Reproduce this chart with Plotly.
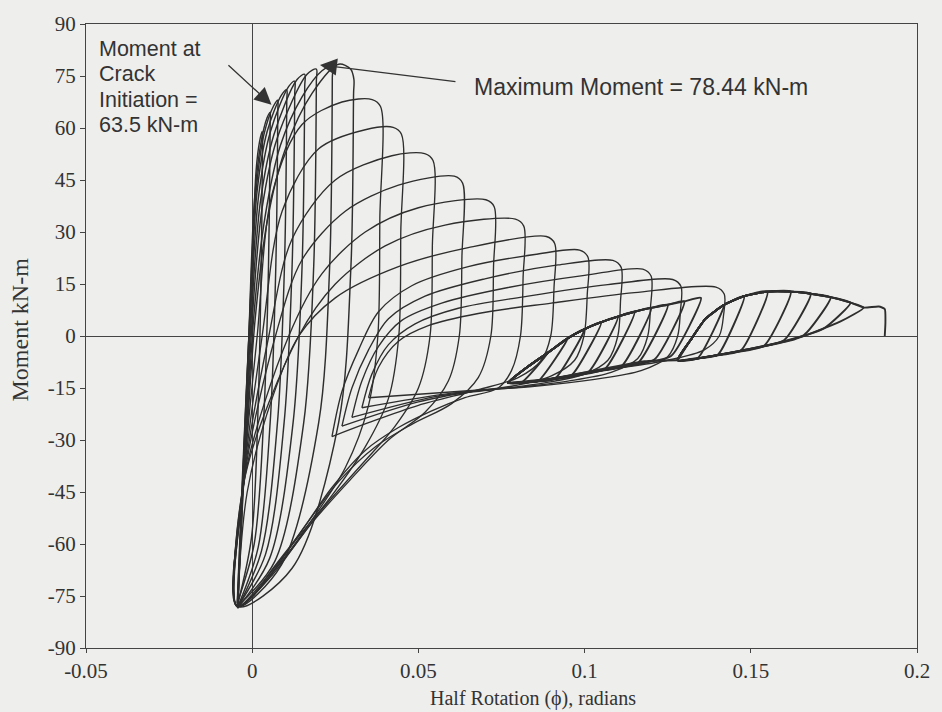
import plotly.graph_objects as go

# ---------------- axis ticks ----------------
x_ticks = [-0.05, 0, 0.05, 0.1, 0.15, 0.2]
x_tick_text = ["-0.05", "0", "0.05", "0.1", "0.15", "0.2"]
y_ticks = [90, 75, 60, 45, 30, 15, 0, -15, -30, -45, -60, -75, -90]
y_tick_text = ["90", "75", "60", "45", "30", "15", "0", "-15", "-30", "-45", "-60", "-75", "-90"]

# ---------------- hysteresis loops (half rotation, moment kN-m) ----------------
# early cycles: peaks on the rising backbone, negative side back to the corner
early_rot = [
    [0.0, 0.0004, 0.0012, 0.0022, 0.003, 0.0031, 0.0027, 0.0018, -0.0002, -0.0045],
    [-0.0045, -0.003, -0.0012, 0.0006, 0.0025, 0.0045, 0.0054, 0.0054, 0.0049, 0.0034, 0.0006, -0.0045],
    [-0.0045, -0.003, -0.001, 0.001, 0.0035, 0.0065, 0.0077, 0.0077, 0.0071, 0.0054, 0.0018, -0.0043],
    [-0.0043, -0.0028, -0.0006, 0.0015, 0.0045, 0.0088, 0.0104, 0.0104, 0.0097, 0.0076, 0.0028, -0.0044],
    [-0.0044, -0.0027, -0.0003, 0.002, 0.0055, 0.011, 0.0128, 0.0128, 0.012, 0.0096, 0.004, -0.0043],
    [-0.0043, -0.0026, 0.0, 0.0025, 0.0065, 0.0135, 0.0158, 0.0158, 0.015, 0.0123, 0.0053, -0.0044],
    [-0.0044, -0.0025, 0.0003, 0.003, 0.0075, 0.0165, 0.0193, 0.0193, 0.0185, 0.0155, 0.0068, -0.0045],
    [-0.0045, -0.0024, 0.0006, 0.0038, 0.0085, 0.015, 0.021, 0.0241, 0.0241, 0.0233, 0.02, 0.0088, -0.0045],
    [-0.0045, -0.0023, 0.0009, 0.0045, 0.01, 0.018, 0.026, 0.0296, 0.0306, 0.0305, 0.0297, 0.026, 0.012, -0.0045],
]
early_mom = [
    [0, 30, 48, 56, 59, 56, 20, -20, -58, -78],
    [-78, -45, -5, 38, 55, 63, 64.5, 61, 20, -25, -60, -77],
    [-77, -42, 0, 40, 58, 66.5, 68, 65, 20, -25, -61, -78],
    [-78, -40, 8, 42, 59, 69.5, 71, 68, 20, -25, -62, -78.5],
    [-78.5, -40, 10, 41, 59, 72, 73.5, 70, 20, -25, -63, -78],
    [-78, -40, 10, 39, 58, 74, 75.5, 72, 20, -25, -64, -78.5],
    [-78.5, -40, 9, 37, 57, 75.5, 77, 73.5, 20, -25, -65, -78],
    [-78, -40, 7, 34, 55, 69, 76.5, 78, 74.5, 20, -25, -66, -78],
    [-78, -40, 5, 33, 54, 70, 78.4, 77, 74, 70, 20, -25, -67, -78],
]

# middle cycles: degrading peaks, unloading sweeps back to the corner
mid_rot = [
    [-0.0045, -0.0025, 0.0015, 0.006, 0.015, 0.027, 0.0361, 0.0386, 0.0384, 0.0378, 0.035, 0.028, 0.018, 0.008, -0.0045],
    [-0.0045, -0.0024, 0.003, 0.009, 0.02, 0.034, 0.0424, 0.0449, 0.0447, 0.0441, 0.041, 0.034, 0.024, 0.013, 0.004, -0.0045],
    [-0.0045, -0.0023, 0.005, 0.012, 0.025, 0.042, 0.0519, 0.0544, 0.0542, 0.0535, 0.05, 0.043, 0.033, 0.021, 0.009, -0.0045],
    [-0.0045, -0.0022, 0.007, 0.015, 0.028, 0.044, 0.0608, 0.0633, 0.0631, 0.0623, 0.059, 0.052, 0.041, 0.029, 0.017, 0.006, -0.0045],
    [-0.0045, -0.0021, 0.011, 0.021, 0.034, 0.05, 0.0703, 0.0728, 0.0726, 0.0718, 0.068, 0.06, 0.048, 0.037, 0.026, 0.015, 0.003, -0.0045],
    [-0.0045, -0.002, 0.014, 0.025, 0.04, 0.058, 0.0792, 0.0817, 0.0815, 0.0807, 0.078, 0.074, 0.064, 0.054, 0.044, 0.034, 0.024, 0.0143, 0.0055, 0.0003, -0.0045],
]
mid_mom = [
    [-78, -40, 0, 41, 61, 67.5, 68.2, 66.2, 34, 0, -20, -38, -53, -66, -78],
    [-78, -40, 0, 36, 54, 59.5, 60.2, 58.2, 30, 0, -18, -32, -46, -59, -70, -78],
    [-78, -40, 0, 28, 45, 52, 52.6, 50.6, 26, 0, -15, -26, -37, -50, -65, -78],
    [-78, -40, 0, 22, 36, 43.5, 46.1, 44.1, 23, 0, -13, -22, -30, -42, -55, -69, -78],
    [-78, -40, 0, 18, 30, 37, 39.3, 37.3, 20, 0, -12, -19.5, -25.5, -32, -42, -56, -72, -78],
    [-78, -40, 0, 15, 26, 32, 33.7, 31.7, 17, 0, -10, -15, -17.8, -21.6, -26.4, -33, -43.7, -57, -68, -75, -78],
]

# late cycles: small peaks, negative side turning at the inner tips
late_rot = [
    [-0.0045, -0.0015, 0.006, 0.014, 0.025, 0.044, 0.065, 0.0885, 0.091, 0.0908, 0.0898, 0.087, 0.08, 0.068, 0.05, 0.035, 0.024],
    [0.024, 0.027, 0.032, 0.038, 0.048, 0.065, 0.085, 0.0985, 0.101, 0.1008, 0.0998, 0.097, 0.09, 0.078, 0.066, 0.05, 0.027],
    [0.027, 0.030, 0.035, 0.041, 0.052, 0.07, 0.092, 0.1085, 0.111, 0.1108, 0.11, 0.107, 0.1, 0.088, 0.072, 0.055, 0.030],
    [0.030, 0.033, 0.038, 0.045, 0.057, 0.077, 0.1, 0.1175, 0.12, 0.1198, 0.119, 0.116, 0.108, 0.095, 0.078, 0.06, 0.033],
    [0.033, 0.036, 0.041, 0.049, 0.062, 0.083, 0.107, 0.1265, 0.129, 0.1288, 0.128, 0.125, 0.117, 0.103, 0.085, 0.065, 0.035],
    [0.035, 0.038, 0.044, 0.053, 0.068, 0.09, 0.115, 0.1395, 0.142, 0.1418, 0.1405, 0.136, 0.125, 0.105, 0.09, 0.077],
]
late_mom = [
    [-78, -45, -18, 0, 11, 20, 25.5, 28.7, 26.7, 14, 0, -7, -12, -15.5, -20, -25, -29],
    [-29, -16, -4, 7, 14.5, 20, 23.5, 24.8, 22.8, 12, 0, -7, -11.5, -14.5, -16, -19, -26],
    [-26, -15, -4, 5, 11.5, 16.5, 20.5, 21.8, 19.8, 10, 0, -7, -11, -13.5, -15.5, -17.5, -23.5],
    [-23.5, -13, -3, 4.5, 9.5, 14, 17.5, 19.3, 17.3, 8, 0, -6.5, -10.5, -13, -15, -16.5, -20.7],
    [-20.7, -11, -2.5, 3.5, 8, 11.5, 14.8, 16.3, 14.3, 7, 0, -6, -10, -12.5, -14.5, -15.8, -17.8],
    [-17.8, -9, -1.5, 3, 6.5, 9.5, 12.5, 14.1, 12.1, 6, 0, -4, -7, -10, -12.5, -13.5],
]

# final cycles: tight cluster, first group (left)
cluster_left_rot = [
    [0.077, 0.083, 0.089, 0.081, 0.077],
    [0.077, 0.083, 0.089, 0.095, 0.086, 0.08, 0.077],
    [0.077, 0.083, 0.089, 0.095, 0.1, 0.091, 0.083, 0.077],
    [0.077, 0.083, 0.089, 0.095, 0.1, 0.105, 0.096, 0.087, 0.077],
    [0.077, 0.083, 0.089, 0.095, 0.1, 0.105, 0.11, 0.101, 0.09, 0.077],
    [0.077, 0.083, 0.089, 0.095, 0.1, 0.105, 0.11, 0.115, 0.106, 0.095, 0.084, 0.077],
    [0.077, 0.083, 0.089, 0.095, 0.1, 0.105, 0.11, 0.115, 0.12, 0.111, 0.1, 0.087, 0.077],
    [0.077, 0.083, 0.089, 0.095, 0.1, 0.105, 0.11, 0.115, 0.12, 0.125, 0.116, 0.104, 0.09, 0.077],
    [0.077, 0.083, 0.089, 0.095, 0.1, 0.105, 0.11, 0.115, 0.12, 0.125, 0.13, 0.121, 0.108, 0.092, 0.077],
    [0.077, 0.083, 0.089, 0.095, 0.1, 0.105, 0.11, 0.115, 0.12, 0.125, 0.13, 0.135, 0.126, 0.112, 0.095, 0.077],
    [0.077, 0.09, 0.105, 0.118, 0.128],
]
cluster_left_mom = [
    [-13.5, -8.8, -4.8, -13.4, -13.5],
    [-13.5, -8.8, -4.8, -0.6, -13, -13.4, -13.5],
    [-13.5, -8.8, -4.8, -0.6, 2, -12.4, -13.3, -13.5],
    [-13.5, -8.8, -4.8, -0.6, 2, 4, -11.4, -12.9, -13.5],
    [-13.5, -8.8, -4.8, -0.6, 2, 4, 5.6, -10.5, -12.5, -13.5],
    [-13.5, -8.8, -4.8, -0.6, 2, 4, 5.6, 7, -9.6, -11.6, -13.1, -13.5],
    [-13.5, -8.8, -4.8, -0.6, 2, 4, 5.6, 7, 8.1, -8.8, -10.6, -12.9, -13.5],
    [-13.5, -8.8, -4.8, -0.6, 2, 4, 5.6, 7, 8.1, 9, -7.8, -10, -12.5, -13.5],
    [-13.5, -8.8, -4.8, -0.6, 2, 4, 5.6, 7, 8.1, 9, 10, -6.8, -9.4, -12.2, -13.5],
    [-13.5, -8.8, -4.8, -0.6, 2, 4, 5.6, 7, 8.1, 9, 10, 11, -5.8, -8.6, -11.6, -13.5],
    [-13.5, -12.3, -9.6, -7.3, -7],
]

# final cycles: second group (right) and last excursion
cluster_right_rot = [
    [0.128, 0.132, 0.1364, 0.142, 0.134, 0.128],
    [0.128, 0.132, 0.1364, 0.142, 0.148, 0.14, 0.133, 0.128],
    [0.128, 0.132, 0.1364, 0.142, 0.148, 0.155, 0.147, 0.138, 0.128],
    [0.128, 0.132, 0.1364, 0.142, 0.148, 0.155, 0.162, 0.154, 0.143, 0.128],
    [0.128, 0.132, 0.1364, 0.142, 0.148, 0.155, 0.162, 0.168, 0.16, 0.148, 0.135, 0.128],
    [0.128, 0.132, 0.1364, 0.142, 0.148, 0.155, 0.162, 0.168, 0.174, 0.166, 0.153, 0.138, 0.128],
    [0.128, 0.132, 0.1364, 0.142, 0.148, 0.155, 0.162, 0.168, 0.174, 0.18, 0.172, 0.158, 0.142, 0.128],
    [0.128, 0.132, 0.1364, 0.142, 0.148, 0.155, 0.162, 0.168, 0.174, 0.18, 0.184, 0.177, 0.163, 0.145, 0.128],
    [0.128, 0.132, 0.1364, 0.142, 0.148, 0.155, 0.162, 0.168, 0.174, 0.18, 0.184, 0.1885, 0.1903, 0.1905, 0.1903],
]
cluster_right_mom = [
    [-7, -1, 5, 9, -6.4, -7],
    [-7, -1, 5, 9, 11.5, -5.5, -6.5, -7],
    [-7, -1, 5, 9, 11.5, 12.8, -4.2, -5.8, -7],
    [-7, -1, 5, 9, 11.5, 12.8, 12.8, -2.8, -5, -7],
    [-7, -1, 5, 9, 11.5, 12.8, 12.8, 12.2, -1.2, -4, -6.3, -7],
    [-7, -1, 5, 9, 11.5, 12.8, 12.8, 12.2, 11.2, 0.3, -3.2, -5.8, -7],
    [-7, -1, 5, 9, 11.5, 12.8, 12.8, 12.2, 11.2, 9.6, 2.2, -2, -5.1, -7],
    [-7, -1, 5, 9, 11.5, 12.8, 12.8, 12.2, 11.2, 9.6, 8.2, 4.2, -1, -4.6, -7],
    [-7, -1, 5, 9, 11.5, 12.8, 12.8, 12.2, 11.2, 9.6, 8.2, 8.5, 7.8, 4, 0],
]

# ---------------- annotation values ----------------
crack_label = ["Moment at", "Crack", "Initiation =", "63.5 kN-m"]
crack_label_y = [82.8, 75.5, 68.1, 60.8]
crack_point = (0.0058, 66.7)
crack_tail = (-0.0076, 78.5)
max_label = "Maximum Moment = 78.44 kN-m"
max_point = (0.0204, 78.2)
max_tail = (0.0616, 73.3)

BG = "#eeeeec"
INK = "#333333"
LINE = "#2e2e2e"
SERIF = "Liberation Serif"
SANS = "Liberation Sans"

fig = go.Figure()


def add_family(rots, moms, smoothing, width=1.35):
    for r, m in zip(rots, moms):
        fig.add_trace(go.Scatter(
            x=r, y=m, mode="lines",
            line=dict(color=LINE, width=width, shape="spline", smoothing=smoothing),
            hoverinfo="skip", showlegend=False,
        ))


add_family(early_rot, early_mom, 0.9, 1.45)
add_family(mid_rot, mid_mom, 0.9)
add_family(late_rot, late_mom, 0.9)
add_family(cluster_left_rot, cluster_left_mom, 0.5, 1.9)
add_family(cluster_right_rot, cluster_right_mom, 0.5, 1.9)

annotations = []
for txt, yy in zip(crack_label, crack_label_y):
    annotations.append(dict(x=-0.0467, y=yy, xref="x", yref="y", text=txt,
                            showarrow=False, xanchor="left", yanchor="middle",
                            font=dict(family=SANS, size=21.5, color=INK)))
annotations.append(dict(x=0.066, y=71.9, xref="x", yref="y", text=max_label,
                        showarrow=False, xanchor="left", yanchor="middle",
                        font=dict(family=SANS, size=23, color=INK)))
for tip, tail in [(crack_point, crack_tail), (max_point, max_tail)]:
    annotations.append(dict(x=tip[0], y=tip[1], xref="x", yref="y",
                            ax=tail[0], ay=tail[1], axref="x", ayref="y",
                            text="", showarrow=True, arrowhead=2, arrowsize=2.6,
                            arrowwidth=1.3, arrowcolor=INK))
# axis titles
annotations.append(dict(x=0.538, y=-0.081, xref="paper", yref="paper",
                        text="Half Rotation (ϕ), radians", showarrow=False,
                        xanchor="center", yanchor="middle",
                        font=dict(family=SERIF, size=20, color=INK)))
annotations.append(dict(x=-0.079, y=0.511, xref="paper", yref="paper",
                        text="Moment kN-m", showarrow=False, textangle=-90,
                        xanchor="center", yanchor="middle",
                        font=dict(family=SERIF, size=24, color=INK)))

fig.update_layout(
    width=942, height=712,
    margin=dict(l=86, r=18, t=22, b=64),
    paper_bgcolor=BG, plot_bgcolor=BG,
    showlegend=False,
    annotations=annotations,
    font=dict(family=SERIF, color=INK),
)
fig.update_xaxes(
    range=[-0.05, 0.2], tickvals=x_ticks, ticktext=x_tick_text,
    ticks="outside", ticklen=4, tickcolor="#444", tickwidth=1,
    showline=True, linecolor="#444", linewidth=1.3, mirror=True,
    showgrid=False, zeroline=True, zerolinecolor="#444", zerolinewidth=1.2,
    tickfont=dict(family=SERIF, size=21, color=INK),
)
fig.update_yaxes(
    range=[-90, 90], tickvals=y_ticks, ticktext=y_tick_text,
    ticks="outside", ticklen=5, tickcolor="#444", tickwidth=1,
    showline=True, linecolor="#444", linewidth=1.3, mirror=True,
    showgrid=False, zeroline=True, zerolinecolor="#444", zerolinewidth=1.2,
    tickfont=dict(family=SERIF, size=21, color=INK),
)

fig.write_html(
    "out.html",
    config={"displayModeBar": False},
    post_script="document.body.style.margin='0';document.body.style.background='#eeeeec';",
)
